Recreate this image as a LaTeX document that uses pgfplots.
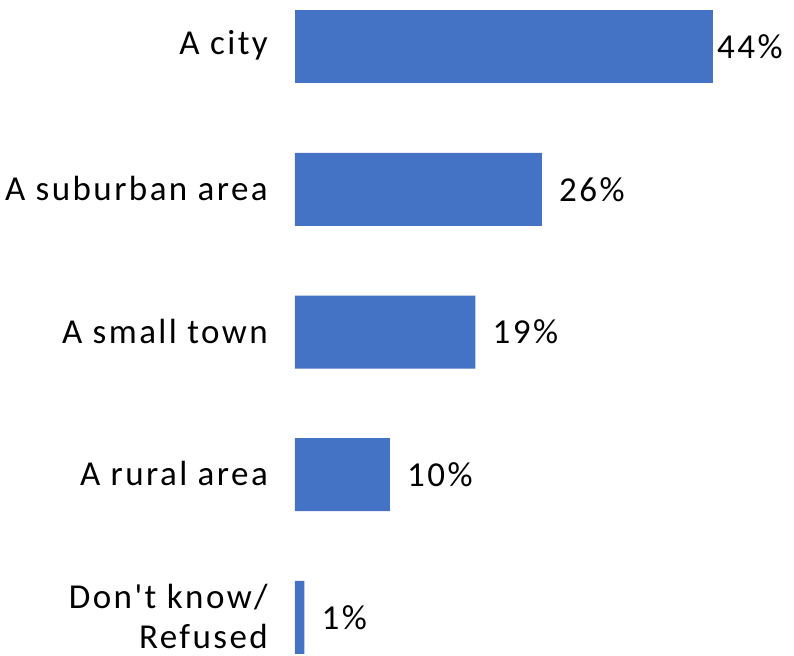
\documentclass[border=0pt]{standalone}
\usepackage{pgfplots}
\pgfplotsset{compat=1.18}
\usepackage{fontspec}
\setmainfont{Carlito}
\newfontfamily\lf[LetterSpace=7]{Carlito}
\definecolor{barblue}{HTML}{4472C4}
\begin{document}
\begin{tikzpicture}
\useasboundingbox (-295bp,0) rectangle (499bp,656bp);
\begin{axis}[
  at={(0,0)}, anchor=south west,
  scale only axis,
  width=418bp, height=656bp,
  xbar, bar width=73bp, bar shift=0pt,
  xmin=0, xmax=44,
  ymin=-0.326, ymax=4.27,
  y dir=reverse,
  axis line style={draw=none},
  xtick=\empty,
  ytick={0,1,2,3,4},
  yticklabels={A city, A suburban area, A small town, A rural area, {Don't know/\\[-2bp]Refused}},
  major tick length=0pt,
  yticklabel style={font=\lf\fontsize{35bp}{42bp}\selectfont, align=right, inner sep=0pt, xshift=-27bp, yshift=1bp},
  nodes near coords={\pgfmathprintnumber[assume math mode=true]{\pgfplotspointmeta}\%},
  nodes near coords style={font=\lf\fontsize{35bp}{40bp}\selectfont, anchor=west, inner sep=0pt, text=black},
  point meta=x,
  clip=false,
]
\addplot[fill=barblue, draw=none, nodes near coords style={xshift=4bp}] coordinates {(44,0)};
\addplot[fill=barblue, draw=none, nodes near coords style={xshift=17bp}] coordinates {(26,1) (19,2) (10,3) (1,4)};
\end{axis}
\end{tikzpicture}
\end{document}
